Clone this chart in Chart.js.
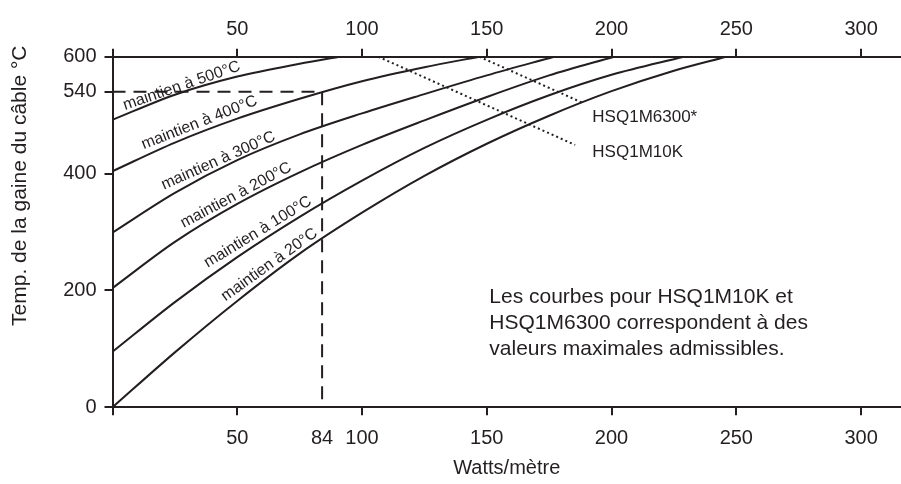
<!DOCTYPE html>
<html lang="fr">
<head>
<meta charset="utf-8">
<script src="https://cdn.jsdelivr.net/npm/chart.js@4.4.1/dist/chart.umd.min.js"></script>
<style>
  html, body { margin: 0; background: #fff; }
  #wrap { width: 901px; height: 484px; position: relative; }
</style>
</head>
<body>
<div id="wrap"><canvas id="chart"></canvas></div>
<script>
// courbes temp. gaine (°C) selon puissance (W/m), une par temp. de maintien
const m500 = [[0, 492], [25, 535], [50, 566], [75, 588], [91, 600]];
const m400 = [[0, 404], [25, 453], [50, 494], [75, 528], [100, 558], [125, 582], [147, 600]];
const m300 = [[0, 299], [25, 367], [50, 423], [75, 467], [100, 503], [125, 536], [150, 568], [177, 600]];
const m200 = [[0, 204], [25, 283], [50, 348], [75, 402], [100, 449], [125, 491], [150, 531], [175, 568], [201, 600]];
const m100 = [[0, 95], [25, 180], [50, 257], [75, 326], [100, 388], [125, 444], [150, 492], [175, 534], [200, 569], [229, 600]];
const m20 = [[0, 0], [25, 94], [50, 182], [75, 263], [100, 333], [125, 396], [150, 451], [175, 499], [200, 541], [225, 576], [246, 600]];

// limites admissibles (pointilles)
const hsq10k = [[106.5, 600], [185.4, 449]];
const hsq6300 = [[147, 600], [188.7, 520.5]];

// exemple de lecture : 84 W/m -> 540 °C
const exemple = [[0, 540], [84, 540], [84, 0]];

const X_TICKS = [0, 50, 84, 100, 150, 200, 250, 300];
const X_TOP_TICKS = [0, 50, 100, 150, 200, 250, 300];
const Y_TICKS = [0, 200, 400, 540, 600];

const INK = '#231f20';
const FONT = '"Liberation Sans", Arial, sans-serif';

const CURVE_LABELS = [
  { text: 'maintien à 500°C', x: 27.7, y: 550, angle: -19 },
  { text: 'maintien à 400°C', x: 34.8, y: 487, angle: -21.5 },
  { text: 'maintien à 300°C', x: 42.4, y: 422, angle: -24 },
  { text: 'maintien à 200°C', x: 49.5, y: 363, angle: -28 },
  { text: 'maintien à 100°C', x: 58.3, y: 300, angle: -31.5 },
  { text: 'maintien à 20°C', x: 62.9, y: 244, angle: -35.5 },
];
const HSQ_LABELS = [
  { text: 'HSQ1M6300*', x: 192.3, y: 497 },
  { text: 'HSQ1M10K', x: 192.3, y: 436 },
];
const NOTE = ['Les courbes pour HSQ1M10K et', 'HSQ1M6300 correspondent à des', 'valeurs maximales admissibles.'];

const toPts = arr => arr.map(([x, y]) => ({ x, y }));
const curve = d => ({ data: toPts(d), borderColor: INK, borderWidth: 2, pointRadius: 0, showLine: true, cubicInterpolationMode: 'monotone', fill: false });
const dotted = d => ({ data: toPts(d), borderColor: INK, borderWidth: 2, borderDash: [2, 3], pointRadius: 0, showLine: true, fill: false });

// textes sur le graphique
const textPlugin = {
  id: 'texts',
  afterDatasetsDraw(chart) {
    const { ctx, chartArea } = chart;
    const x = chart.scales.x, y = chart.scales.y;
    ctx.save();
    ctx.fillStyle = INK;
    ctx.textBaseline = 'middle';

    ctx.font = '16px ' + FONT;
    ctx.textAlign = 'center';
    CURVE_LABELS.forEach(l => {
      ctx.save();
      ctx.translate(x.getPixelForValue(l.x), y.getPixelForValue(l.y));
      ctx.rotate(l.angle * Math.PI / 180);
      ctx.fillText(l.text, 0, 0);
      ctx.restore();
    });

    ctx.textAlign = 'left';
    ctx.font = '17px ' + FONT;
    HSQ_LABELS.forEach(l => ctx.fillText(l.text, x.getPixelForValue(l.x), y.getPixelForValue(l.y)));

    ctx.font = '21px ' + FONT;
    const nx = x.getPixelForValue(151), ny = y.getPixelForValue(189);
    NOTE.forEach((line, i) => ctx.fillText(line, nx, ny + i * 26));

    // titre axe vertical
    ctx.font = '21px ' + FONT;
    ctx.textAlign = 'center';
    ctx.translate(20, chartArea.top + 129);
    ctx.rotate(-Math.PI / 2);
    ctx.fillText('Temp. de la gaine du câble °C', 0, 0);
    ctx.restore();
  }
};

const tickFont = { family: FONT, size: 20 };

new Chart(document.getElementById('chart'), {
  type: 'scatter',
  data: {
    datasets: [
      curve(m500), curve(m400), curve(m300), curve(m200), curve(m100), curve(m20),
      dotted(hsq10k), dotted(hsq6300),
      { data: toPts(exemple), borderColor: INK, borderWidth: 2, borderDash: [13, 8], pointRadius: 0, showLine: true, fill: false },
    ],
  },
  options: {
    responsive: true,
    maintainAspectRatio: false,
    animation: false,
    layout: { padding: 0 },
    plugins: { legend: { display: false }, tooltip: { enabled: false } },
    scales: {
      x: {
        type: 'linear', position: 'bottom', min: 0, max: 316,
        afterBuildTicks: s => { s.ticks = X_TICKS.map(v => ({ value: v })); },
        afterFit: s => { s.height = 76.7; },
        ticks: { autoSkip: false, maxRotation: 0, color: INK, font: tickFont, padding: 11, callback: v => v === 0 ? '' : String(v) },
        grid: { drawOnChartArea: false, tickLength: 8, lineWidth: 2, color: c => (c.tick && c.tick.value === 84) ? 'rgba(0,0,0,0)' : INK },
        border: { display: true, color: INK, width: 2 },
        title: { display: true, text: 'Watts/mètre', color: INK, font: { family: FONT, size: 20 }, padding: { top: 0, bottom: 4 } },
      },
      x2: {
        type: 'linear', position: 'top', min: 0, max: 316,
        afterBuildTicks: s => { s.ticks = X_TOP_TICKS.map(v => ({ value: v })); },
        afterFit: s => { s.height = 56.7; },
        ticks: { autoSkip: false, maxRotation: 0, color: INK, font: tickFont, padding: 7, callback: v => v === 0 ? '' : String(v) },
        grid: { drawOnChartArea: false, tickLength: 8, lineWidth: 2, color: INK },
        border: { display: true, color: INK, width: 2 },
      },
      y: {
        type: 'linear', position: 'left', min: 0, max: 600,
        afterBuildTicks: s => { s.ticks = Y_TICKS.map(v => ({ value: v })); },
        afterFit: s => { s.width = 112.5; },
        ticks: { autoSkip: false, color: INK, font: tickFont, padding: 8 },
        grid: { drawOnChartArea: false, tickLength: 8, lineWidth: 2, color: INK },
        border: { display: true, color: INK, width: 2 },
      },
    },
  },
  plugins: [textPlugin],
});
</script>
</body>
</html>
